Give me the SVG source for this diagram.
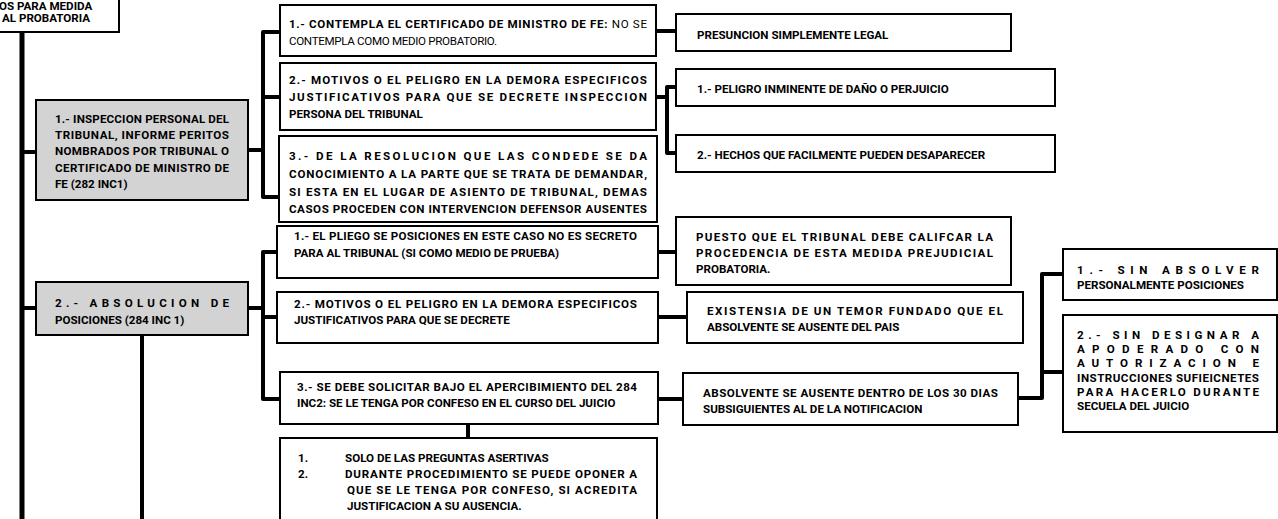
<svg xmlns="http://www.w3.org/2000/svg" width="1278" height="519" viewBox="0 0 1278 519">
<style>
.box{fill:#fff;stroke:#000;stroke-width:2}
.gray{fill:#d3d3d3;stroke:#000;stroke-width:2}
text{font-family:Roboto,"Liberation Sans",Arial,sans-serif;font-weight:bold;font-size:11.6px;fill:#000}
.n{font-weight:normal}
.c{fill:none;stroke:#000;stroke-width:4;stroke-linejoin:round}
</style>
<rect width="1278" height="519" fill="#fff"/>
<g id="connectors">
<path class="c" d="M22 32V519" style="stroke-width:5"/>
<path class="c" d="M22 152H36M22 308H36M142 335V519"/>
<path class="c" d="M248 150H263M280 32H263V197H279M263 97H280"/>
<path class="c" d="M656 31H676M656 97H667M676 87H667V153H676"/>
<path class="c" d="M248 308H263M277 252H263V399H280M263 317H277"/>
<path class="c" d="M658 252H676M658 317H687M658 399H683M468 424V438"/>
<path class="c" d="M1018 398H1042V274H1063M1042 372H1063"/>
</g>
<g id="n-root">
<rect class="box" x="-5" y="-5" width="124" height="37"/>
<text x="-1" y="9.5">OS PARA MEDIDA</text>
<text x="2" y="22">AL PROBATORIA</text>
</g>
<g id="n-inspeccion">
<rect class="gray" x="36" y="100" width="212" height="100"/>
<text x="55" y="123" textLength="174" lengthAdjust="spacing">1.- INSPECCION PERSONAL DEL</text>
<text x="55" y="139" textLength="174" lengthAdjust="spacing">TRIBUNAL, INFORME PERITOS</text>
<text x="55" y="155" textLength="174" lengthAdjust="spacing">NOMBRADOS POR TRIBUNAL O</text>
<text x="55" y="172" textLength="174" lengthAdjust="spacing">CERTIFICADO DE MINISTRO DE</text>
<text x="55" y="188">FE (282 INC1)</text>
</g>
<g id="n-absolucion">
<rect class="gray" x="36" y="282" width="212" height="53"/>
<text x="55" y="307" textLength="174" lengthAdjust="spacing">2.- ABSOLUCION DE</text>
<text x="55" y="324">POSICIONES (284 INC 1)</text>
</g>
<g id="n-contempla">
<rect class="box" x="280" y="5" width="376" height="51"/>
<text x="289" y="28" textLength="358" lengthAdjust="spacing">1.- CONTEMPLA EL CERTIFICADO DE MINISTRO DE FE:<tspan class="n"> NO SE</tspan></text>
<text class="n" x="289" y="45" textLength="208" lengthAdjust="spacing">CONTEMPLA COMO MEDIO PROBATORIO.</text>
</g>
<g id="n-motivos1">
<rect class="box" x="280" y="63" width="376" height="67"/>
<text x="289" y="84" textLength="358" lengthAdjust="spacing">2.- MOTIVOS O EL PELIGRO EN LA DEMORA ESPECIFICOS</text>
<text x="289" y="101" textLength="358" lengthAdjust="spacing">JUSTIFICATIVOS PARA QUE SE DECRETE INSPECCION</text>
<text x="289" y="118">PERSONA DEL TRIBUNAL</text>
</g>
<g id="n-resolucion">
<rect class="box" x="279" y="136" width="378" height="86"/>
<text x="289" y="160" textLength="358" lengthAdjust="spacing">3.- DE LA RESOLUCION QUE LAS CONDEDE SE DA</text>
<text x="289" y="178" textLength="358" lengthAdjust="spacing">CONOCIMIENTO A LA PARTE QUE SE TRATA DE DEMANDAR,</text>
<text x="289" y="196" textLength="358" lengthAdjust="spacing">SI ESTA EN EL LUGAR DE ASIENTO DE TRIBUNAL, DEMAS</text>
<text x="289" y="213" textLength="358" lengthAdjust="spacing">CASOS PROCEDEN CON INTERVENCION DEFENSOR AUSENTES</text>
</g>
<g id="n-presuncion">
<rect class="box" x="676" y="14" width="335" height="37"/>
<text x="697" y="39">PRESUNCION SIMPLEMENTE LEGAL</text>
</g>
<g id="n-peligro">
<rect class="box" x="676" y="69" width="379" height="37"/>
<text x="697" y="93">1.- PELIGRO INMINENTE DE DAÑO O PERJUICIO</text>
</g>
<g id="n-hechos">
<rect class="box" x="676" y="135" width="379" height="37"/>
<text x="697" y="159">2.- HECHOS QUE FACILMENTE PUEDEN DESAPARECER</text>
</g>
<g id="n-pliego">
<rect class="box" x="277" y="226" width="381" height="52"/>
<text x="294" y="240" textLength="343" lengthAdjust="spacing">1.- EL PLIEGO SE POSICIONES EN ESTE CASO NO ES SECRETO</text>
<text x="294" y="257">PARA AL TRIBUNAL (SI COMO MEDIO DE PRUEBA)</text>
</g>
<g id="n-motivos2">
<rect class="box" x="277" y="292" width="381" height="51"/>
<text x="294" y="308" textLength="343" lengthAdjust="spacing">2.- MOTIVOS O EL PELIGRO EN LA DEMORA ESPECIFICOS</text>
<text x="294" y="324">JUSTIFICATIVOS PARA QUE SE DECRETE</text>
</g>
<g id="n-sedebe">
<rect class="box" x="280" y="372" width="378" height="52"/>
<text x="297" y="391" textLength="340" lengthAdjust="spacing">3.- SE DEBE SOLICITAR BAJO EL APERCIBIMIENTO DEL 284</text>
<text x="297" y="407">INC2: SE LE TENGA POR CONFESO EN EL CURSO DEL JUICIO</text>
</g>
<g id="n-solo">
<rect class="box" x="280" y="438" width="377" height="100"/>
<text x="298" y="462">1.</text>
<text x="345" y="462">SOLO DE LAS PREGUNTAS ASERTIVAS</text>
<text x="298" y="478">2.</text>
<text x="345" y="478" textLength="292" lengthAdjust="spacing">DURANTE PROCEDIMIENTO SE PUEDE OPONER A</text>
<text x="347" y="494" textLength="290" lengthAdjust="spacing">QUE SE LE TENGA POR CONFESO, SI ACREDITA</text>
<text x="347" y="510">JUSTIFICACION A SU AUSENCIA.</text>
</g>
<g id="n-puesto">
<rect class="box" x="676" y="217" width="335" height="68"/>
<text x="696" y="241" textLength="297" lengthAdjust="spacing">PUESTO QUE EL TRIBUNAL DEBE CALIFCAR LA</text>
<text x="696" y="257" textLength="297" lengthAdjust="spacing">PROCEDENCIA DE ESTA MEDIDA PREJUDICIAL</text>
<text x="696" y="273">PROBATORIA.</text>
</g>
<g id="n-existensia">
<rect class="box" x="687" y="292" width="336" height="51"/>
<text x="707" y="315" textLength="296" lengthAdjust="spacing">EXISTENSIA DE UN TEMOR FUNDADO QUE EL</text>
<text x="707" y="331">ABSOLVENTE SE AUSENTE DEL PAIS</text>
</g>
<g id="n-absolvente">
<rect class="box" x="683" y="373" width="335" height="52"/>
<text x="703" y="397" textLength="295" lengthAdjust="spacing">ABSOLVENTE SE AUSENTE DENTRO DE LOS 30 DIAS</text>
<text x="703" y="413">SUBSIGUIENTES AL DE LA NOTIFICACION</text>
</g>
<g id="n-sinabsolver">
<rect class="box" x="1063" y="249" width="214" height="51"/>
<text x="1077" y="274" textLength="182" lengthAdjust="spacing">1.- SIN ABSOLVER</text>
<text x="1077" y="289">PERSONALMENTE POSICIONES</text>
</g>
<g id="n-sindesignar">
<rect class="box" x="1063" y="315" width="214" height="117"/>
<text x="1077" y="339" textLength="182" lengthAdjust="spacing">2.- SIN DESIGNAR A</text>
<text x="1077" y="353" textLength="182" lengthAdjust="spacing">APODERADO CON</text>
<text x="1077" y="367" textLength="182" lengthAdjust="spacing">AUTORIZACION E</text>
<text x="1077" y="382" textLength="182" lengthAdjust="spacing">INSTRUCCIONES SUFIEICNETES</text>
<text x="1077" y="396" textLength="182" lengthAdjust="spacing">PARA HACERLO DURANTE</text>
<text x="1077" y="410">SECUELA DEL JUICIO</text>
</g>
</svg>
